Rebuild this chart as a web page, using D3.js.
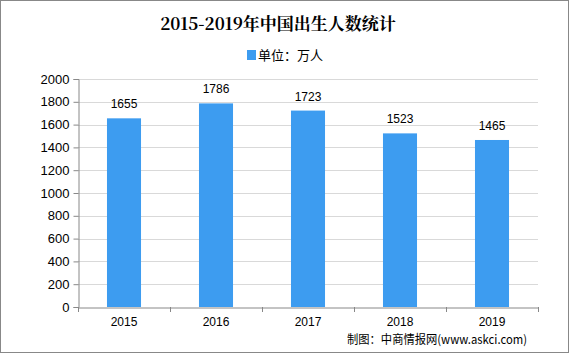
<!DOCTYPE html>
<html><head><meta charset="utf-8">
<script src="https://cdn.jsdelivr.net/npm/d3@7"></script>
<style>body{margin:0;background:#fff}svg{display:block}</style>
</head><body>
<script>
const categories = ["2015","2016","2017","2018","2019"];
const values = [1655,1786,1723,1523,1465];
const yTicks = [0,200,400,600,800,1000,1200,1400,1600,1800,2000];
const title = "2015-2019年中国出生人数统计";
const legendLabel = "单位：万人";
const source = "制图：中商情报网(www.askci.com)";

const W=569,H=354;
const svg=d3.select("body").append("svg").attr("width",W).attr("height",H);
svg.append("rect").attr("x",0.5).attr("y",0.5).attr("width",W-1).attr("height",H-2).attr("fill","#fff").attr("stroke","#888");

const m={l:78,r:538,t:79,b:307};
const x=d3.scaleBand().domain(categories).range([m.l,m.r]).paddingInner(0.63).paddingOuter(0.315);
const y=d3.scaleLinear().domain([0,2000]).range([m.b,m.t]);

const g=svg.append("g");
g.selectAll("line.grid").data(yTicks.slice(1)).join("line")
 .attr("x1",m.l).attr("x2",m.r).attr("y1",d=>Math.round(y(d))+0.5).attr("y2",d=>Math.round(y(d))+0.5)
 .attr("stroke","#d9d9d9");

const yAxis=svg.append("g").attr("transform",`translate(${m.l+0.5},0)`)
 .call(d3.axisLeft(y).tickValues(yTicks).tickFormat(d3.format("d")).tickSize(5).tickPadding(4));
yAxis.select(".domain").attr("stroke","#888");
yAxis.selectAll(".tick line").attr("stroke","#888");
yAxis.selectAll("text").attr("font-family","Liberation Sans, Arial, sans-serif").attr("font-size",13).attr("fill","#000");

g.selectAll("rect.bar").data(values).join("rect")
 .attr("x",(d,i)=>x(categories[i])).attr("width",x.bandwidth())
 .attr("y",d=>y(d)).attr("height",d=>y(0)-y(d)).attr("fill","#3d9cf0");

g.selectAll("text.lbl").data(values).join("text")
 .attr("x",(d,i)=>x(categories[i])+x.bandwidth()/2).attr("y",d=>y(d)-10)
 .attr("text-anchor","middle").attr("font-family","Liberation Sans, Arial, sans-serif").attr("font-size",12).text(d=>d);

const xb=d3.scaleBand().domain(categories).range([m.l,m.r]);
const xAxis=svg.append("g").attr("transform",`translate(0,${m.b+0.5})`)
 .call(d3.axisBottom(xb).tickSize(0).tickPadding(10));
xAxis.select(".domain").attr("stroke","#888");
xAxis.selectAll("text").attr("font-family","Liberation Sans, Arial, sans-serif").attr("font-size",12).attr("fill","#000");
const edges=categories.map(c=>xb(c)).concat([m.r]);
svg.append("g").selectAll("line").data(edges).join("line")
 .attr("x1",d=>Math.round(d)+0.5).attr("x2",d=>Math.round(d)+0.5).attr("y1",m.b).attr("y2",m.b+5).attr("stroke","#888");

svg.append("text").attr("x",278).attr("y",30).attr("text-anchor","middle")
 .attr("font-family","Noto Serif CJK SC, Liberation Serif, serif").attr("font-weight","bold").attr("font-size",17).text(title);

svg.append("rect").attr("x",247).attr("y",50).attr("width",9).attr("height",10).attr("fill","#3d9cf0");
svg.append("text").attr("x",258).attr("y",60).attr("font-family","Noto Sans CJK SC, sans-serif").attr("font-size",13).text(legendLabel);

svg.append("text").attr("x",347).attr("y",344).attr("font-family","Noto Sans CJK SC, sans-serif").attr("font-size",12)
 .attr("textLength",180).attr("lengthAdjust","spacingAndGlyphs").text(source);
</script>
</body></html>
